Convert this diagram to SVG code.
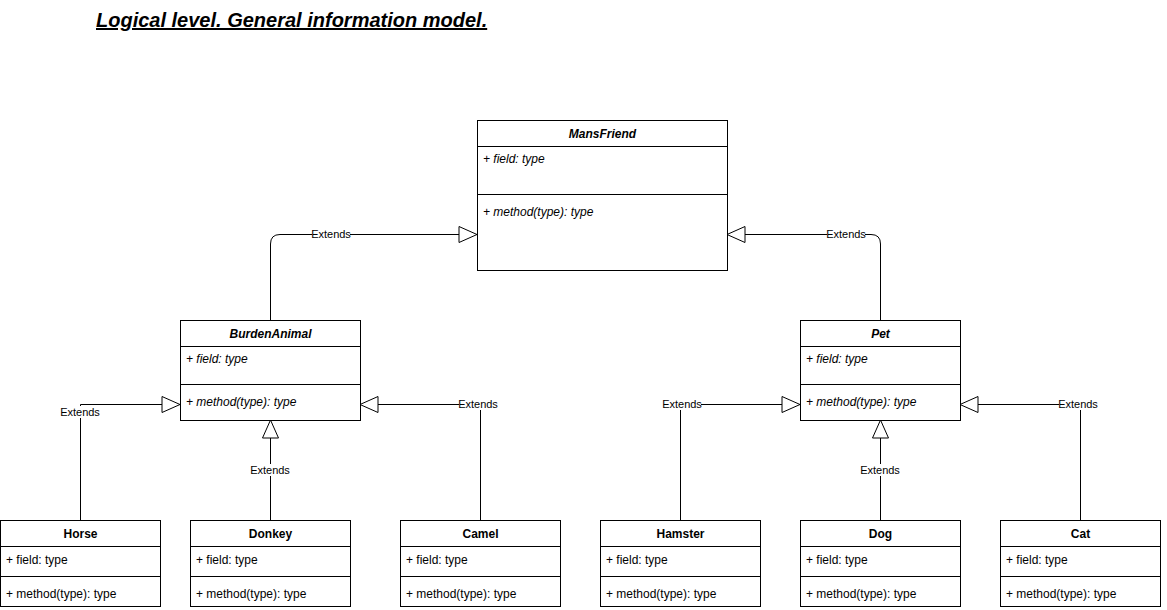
<svg xmlns="http://www.w3.org/2000/svg" width="1167" height="610" viewBox="0 0 1167 610">
<defs>
<marker id="ext" markerWidth="20" markerHeight="18" refX="19" refY="9" orient="auto" markerUnits="userSpaceOnUse">
<path d="M1,1 L19,9 L1,17 Z" fill="#fff" stroke="#000" stroke-width="1"/>
</marker>
<style>
.box{fill:#fff;stroke:#000;stroke-width:1}
.ln{stroke:#000;stroke-width:1}
.t{font-family:"Liberation Sans",Arial,sans-serif;font-size:12px;fill:#000}
.h{font-weight:bold;text-anchor:middle}
.i{font-style:italic}
.edge{fill:none;stroke:#000;stroke-width:1;marker-end:url(#ext)}
.lbl{font-family:"Liberation Sans",Arial,sans-serif;font-size:11px;fill:#000;text-anchor:middle}
.lb{fill:#fff}
</style>
</defs>
<rect width="1167" height="610" fill="#fff"/>
<text x="96" y="27" font-family="Liberation Sans, Arial, sans-serif" font-size="20" font-weight="bold" font-style="italic" text-decoration="underline">Logical level. General information model.</text>

<g id="connectors">
<path class="edge" d="M270.5,320 L270.5,244 Q270.5,234.5 280,234.5 L477,234.5"/>
<rect class="lb" x="312" y="228" width="38" height="12"/>
<text class="lbl" x="331" y="238">Extends</text>
<path class="edge" d="M880.5,320 L880.5,244 Q880.5,234.5 871,234.5 L727,234.5"/>
<rect class="lb" x="827" y="228" width="38" height="12"/>
<text class="lbl" x="846" y="238">Extends</text>

<path class="edge" d="M80.5,520 L80.5,404.5 L180,404.5"/>
<rect class="lb" x="61" y="406" width="38" height="12"/>
<text class="lbl" x="80" y="416">Extends</text>
<path class="edge" d="M270.5,520 L270.5,420"/>
<rect class="lb" x="251" y="464" width="38" height="12"/>
<text class="lbl" x="270" y="474">Extends</text>
<path class="edge" d="M480.5,520 L480.5,404.5 L360,404.5"/>
<rect class="lb" x="459" y="398" width="38" height="12"/>
<text class="lbl" x="478" y="408">Extends</text>

<path class="edge" d="M680.5,520 L680.5,404.5 L800,404.5"/>
<rect class="lb" x="663" y="398" width="38" height="12"/>
<text class="lbl" x="682" y="408">Extends</text>
<path class="edge" d="M880.5,520 L880.5,420"/>
<rect class="lb" x="861" y="464" width="38" height="12"/>
<text class="lbl" x="880" y="474">Extends</text>
<path class="edge" d="M1080.5,520 L1080.5,404.5 L960,404.5"/>
<rect class="lb" x="1059" y="398" width="38" height="12"/>
<text class="lbl" x="1078" y="408">Extends</text>
</g>

<g id="MansFriend">
<rect class="box" x="477.5" y="120.5" width="250" height="150"/>
<line class="ln" x1="477.5" y1="146.5" x2="727.5" y2="146.5"/>
<line class="ln" x1="477.5" y1="194.5" x2="727.5" y2="194.5"/>
<text class="t h i" x="602.5" y="138">MansFriend</text>
<text class="t i" x="483" y="163">+ field: type</text>
<text class="t i" x="483" y="216">+ method(type): type</text>
</g>

<g id="BurdenAnimal">
<rect class="box" x="180.5" y="320.5" width="180" height="100"/>
<line class="ln" x1="180.5" y1="346.5" x2="360.5" y2="346.5"/>
<line class="ln" x1="180.5" y1="384.5" x2="360.5" y2="384.5"/>
<text class="t h i" x="270.5" y="338">BurdenAnimal</text>
<text class="t i" x="186" y="363">+ field: type</text>
<text class="t i" x="186" y="406">+ method(type): type</text>
</g>

<g id="Pet">
<rect class="box" x="800.5" y="320.5" width="160" height="100"/>
<line class="ln" x1="800.5" y1="346.5" x2="960.5" y2="346.5"/>
<line class="ln" x1="800.5" y1="384.5" x2="960.5" y2="384.5"/>
<text class="t h i" x="880.5" y="338">Pet</text>
<text class="t i" x="806" y="363">+ field: type</text>
<text class="t i" x="806" y="406">+ method(type): type</text>
</g>

<g id="Horse">
<rect class="box" x="0.5" y="520.5" width="160" height="86"/>
<line class="ln" x1="0.5" y1="546.5" x2="160.5" y2="546.5"/>
<line class="ln" x1="0.5" y1="576.5" x2="160.5" y2="576.5"/>
<text class="t h" x="80.5" y="538">Horse</text>
<text class="t" x="6" y="564">+ field: type</text>
<text class="t" x="6" y="598">+ method(type): type</text>
</g>

<g id="Donkey">
<rect class="box" x="190.5" y="520.5" width="160" height="86"/>
<line class="ln" x1="190.5" y1="546.5" x2="350.5" y2="546.5"/>
<line class="ln" x1="190.5" y1="576.5" x2="350.5" y2="576.5"/>
<text class="t h" x="270.5" y="538">Donkey</text>
<text class="t" x="196" y="564">+ field: type</text>
<text class="t" x="196" y="598">+ method(type): type</text>
</g>

<g id="Camel">
<rect class="box" x="400.5" y="520.5" width="160" height="86"/>
<line class="ln" x1="400.5" y1="546.5" x2="560.5" y2="546.5"/>
<line class="ln" x1="400.5" y1="576.5" x2="560.5" y2="576.5"/>
<text class="t h" x="480.5" y="538">Camel</text>
<text class="t" x="406" y="564">+ field: type</text>
<text class="t" x="406" y="598">+ method(type): type</text>
</g>

<g id="Hamster">
<rect class="box" x="600.5" y="520.5" width="160" height="86"/>
<line class="ln" x1="600.5" y1="546.5" x2="760.5" y2="546.5"/>
<line class="ln" x1="600.5" y1="576.5" x2="760.5" y2="576.5"/>
<text class="t h" x="680.5" y="538">Hamster</text>
<text class="t" x="606" y="564">+ field: type</text>
<text class="t" x="606" y="598">+ method(type): type</text>
</g>

<g id="Dog">
<rect class="box" x="800.5" y="520.5" width="160" height="86"/>
<line class="ln" x1="800.5" y1="546.5" x2="960.5" y2="546.5"/>
<line class="ln" x1="800.5" y1="576.5" x2="960.5" y2="576.5"/>
<text class="t h" x="880.5" y="538">Dog</text>
<text class="t" x="806" y="564">+ field: type</text>
<text class="t" x="806" y="598">+ method(type): type</text>
</g>

<g id="Cat">
<rect class="box" x="1000.5" y="520.5" width="160" height="86"/>
<line class="ln" x1="1000.5" y1="546.5" x2="1160.5" y2="546.5"/>
<line class="ln" x1="1000.5" y1="576.5" x2="1160.5" y2="576.5"/>
<text class="t h" x="1080.5" y="538">Cat</text>
<text class="t" x="1006" y="564">+ field: type</text>
<text class="t" x="1006" y="598">+ method(type): type</text>
</g>
</svg>
